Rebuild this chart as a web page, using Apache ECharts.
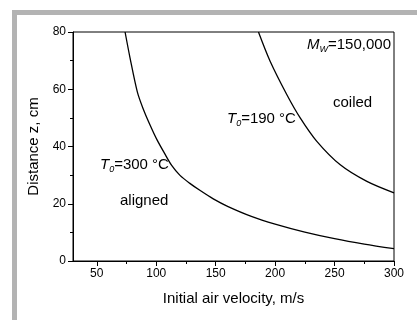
<!DOCTYPE html>
<html>
<head>
<meta charset="utf-8">
<script src="https://cdn.jsdelivr.net/npm/echarts@6/dist/echarts.min.js"></script>
<style>html,body{margin:0;padding:0;background:#fff;}#c{width:417px;height:320px;}</style>
</head>
<body>
<div id="c"></div>
<script>
// Data
var velocity300 = [73.8, 78.0, 84.1, 89.0, 94.8, 100.7, 107, 113, 120, 128, 137, 148, 160, 180, 200, 225, 250, 275, 300];
var distance300 = [80.0, 70.9, 59.1, 53.2, 47.5, 42.3, 37.6, 33.4, 29.9, 27.2, 24.6, 21.7, 19.1, 15.6, 12.9, 10.1, 7.8, 5.9, 4.3];
var velocity190 = [186.0, 195.8, 209.9, 221.1, 235.1, 254.8, 277.2, 300];
var distance190 = [80.0, 69.8, 58.1, 50.0, 41.8, 33.6, 27.8, 23.8];
var xMajorTicks = [50, 100, 150, 200, 250, 300];
var xMinorTicks = [75, 125, 175, 225, 275];

function pairs(xs, ys) { return xs.map(function (x, i) { return [x, ys[i]]; }); }

var FONT = 'Liberation Sans, Arial, sans-serif';
var chart = echarts.init(document.getElementById('c'), null, { renderer: 'canvas' });
var rich = {
  i: { fontStyle: 'italic', fontSize: 15, fontFamily: FONT, color: '#000' },
  s: { fontStyle: 'italic', fontSize: 9, fontFamily: FONT, color: '#000', verticalAlign: 'bottom', padding: [10, 0, 0, 0] },
  n: { fontSize: 15, fontFamily: FONT, color: '#000' }
};
function txt(x, y, text, useRich) {
  return {
    type: 'text', left: x, top: y - 9, z: 100,
    style: useRich ? { text: text, rich: rich, font: '15px ' + FONT, fill: '#000' }
                   : { text: text, font: '15px ' + FONT, fill: '#000' }
  };
}
chart.setOption({
  animation: false,
  backgroundColor: '#fff',
  grid: { left: 73, right: 23, top: 32, bottom: 59, show: true, borderColor: '#000', borderWidth: 1 },
  xAxis: [{
    type: 'value', min: 30, max: 300,
    name: 'Initial air velocity, m/s', nameLocation: 'middle', nameGap: 30,
    nameTextStyle: { fontSize: 15, fontFamily: FONT, color: '#000' },
    axisLine: { show: true, lineStyle: { color: '#000', width: 1 } },
    axisTick: { show: true, length: 5, lineStyle: { color: '#000' }, customValues: xMajorTicks },
    axisLabel: { fontSize: 12, fontFamily: FONT, color: '#000', margin: 7, customValues: xMajorTicks },
    splitLine: { show: false }
  }, {
    type: 'value', min: 30, max: 300, position: 'bottom',
    axisLine: { show: false },
    axisTick: { show: true, length: 3, lineStyle: { color: '#000' }, customValues: xMinorTicks },
    axisLabel: { show: false },
    splitLine: { show: false }
  }],
  yAxis: {
    type: 'value', min: 0, max: 80, interval: 20,
    name: 'Distance z, cm', nameLocation: 'middle', nameGap: 25,
    nameTextStyle: { fontSize: 15, fontFamily: FONT, color: '#000' },
    axisLine: { show: true, lineStyle: { color: '#000', width: 1 } },
    axisTick: { show: true, length: 5, lineStyle: { color: '#000' } },
    minorTick: { show: true, splitNumber: 2, length: 3, lineStyle: { color: '#000' } },
    axisLabel: { fontSize: 12, fontFamily: FONT, color: '#000', margin: 7 },
    splitLine: { show: false }
  },
  series: [{
    type: 'line', data: pairs(velocity300, distance300), smooth: 0.3, showSymbol: false,
    lineStyle: { color: '#000', width: 1.3 }, clip: true
  }, {
    type: 'line', data: pairs(velocity190, distance190), smooth: 0.3, showSymbol: false,
    lineStyle: { color: '#000', width: 1.3 }, clip: true
  }],
  graphic: [
    { type: 'rect', shape: { x: 12, y: 10, width: 405, height: 5 }, style: { fill: '#b3b3b3' }, z: 50 },
    { type: 'rect', shape: { x: 12, y: 10, width: 5, height: 310 }, style: { fill: '#b3b3b3' }, z: 50 },
    txt(307, 46, '{i|M}{s|W}{n|=150,000}', true),
    txt(333, 104, 'coiled', false),
    txt(227, 120, '{i|T}{s|0}{n|=190 °C}', true),
    txt(100, 166, '{i|T}{s|0}{n|=300 °C}', true),
    txt(120, 202, 'aligned', false)
  ]
});
</script>
</body>
</html>
